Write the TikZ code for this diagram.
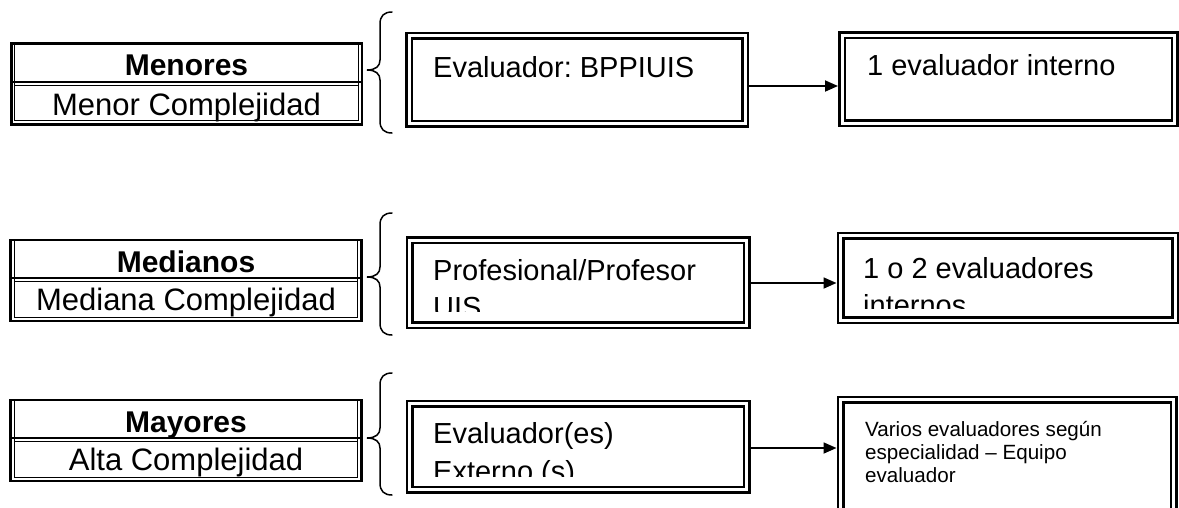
\documentclass[tikz,border=0pt]{standalone}
\usepackage{fontspec}
\setmainfont{Liberation Sans}
\usetikzlibrary{arrows.meta,calc}
\frenchspacing
\tikzset{
  frame/.style={draw, double, line width=2.5pt, double distance=3pt, rectangle, inner sep=0pt, outer sep=4pt},
  tbl/.style={draw, line width=2.6pt, rectangle, minimum width=350.6pt, minimum height=81pt, inner sep=0pt, outer sep=0pt},
  thinline/.style={line width=1.1pt},
  divthick/.style={line width=1.8pt},
  lab/.style={inner sep=0pt, anchor=base, font=\fontsize{31}{37}\selectfont},
  labb/.style={inner sep=0pt, anchor=base, font=\fontsize{30}{36}\selectfont\bfseries},
  txt/.style={inner sep=0pt, anchor=base west, font=\fontsize{29}{35}\selectfont},
  smalltxt/.style={inner sep=0pt, anchor=base west, font=\fontsize{20.6}{24}\selectfont},
  conn/.style={line width=1.8pt, -{Triangle[length=13pt,width=11pt]}},
  bracepath/.style={line width=1.5pt, line cap=round},
}
\begin{document}
\begin{tikzpicture}[x=1pt,y=-1pt]
\useasboundingbox (0,0) rectangle (1179,507);
\clip (0,0) rectangle (1179,507);

% ---------- left tables ----------
\foreach \n/\cx/\cy in {t1/186.5/84, t2/186/280.5, t3/186/440.5}{
  \node[tbl] (\n) at (\cx,\cy) {};
  \draw[thinline] ($(\n.north west)+(3.6,1.3)$) |- ($(\n.south east)+(-3.6,-3.6)$) -- ($(\n.north east)+(-3.6,1.3)$);
  \draw[divthick] ($(\n.west)+(0,-2.2)$) -- ($(\n.east)+(0,-2.2)$);
  \draw[thinline] ($(\n.west)+(3.6,1.3)$) -- ($(\n.east)+(-3.6,1.3)$);
}
\node[labb] (t1a) at (186.5,75) {Menores};
\node[lab]  (t1b) at (186.5,115) {Menor Complejidad};
\node[labb] (t2a) at (186,272) {Medianos};
\node[lab]  (t2b) at (186,310) {Mediana Complejidad};
\node[labb] (t3a) at (186,432) {Mayores};
\node[lab]  (t3b) at (186,470) {Alta Complejidad};

% ---------- braces ----------
\draw[bracepath] (392,12) .. controls (384,12) and (380,16) .. (380,24) -- (380,60)
  .. controls (380,66) and (376,70) .. (367,70) .. controls (376,70) and (380,74) .. (380,80)
  -- (380,121) .. controls (380,129) and (384,133) .. (392,133);
\draw[bracepath] (392,213) .. controls (384,213) and (380,217) .. (380,225) -- (380,267)
  .. controls (380,273) and (376,277) .. (367,277) .. controls (376,277) and (380,281) .. (380,287)
  -- (380,323) .. controls (380,331) and (384,335) .. (392,335);
\draw[bracepath] (392,373) .. controls (384,373) and (380,377) .. (380,385) -- (380,428)
  .. controls (380,434) and (376,438) .. (367,438) .. controls (376,438) and (380,442) .. (380,448)
  -- (380,483) .. controls (380,491) and (384,495) .. (392,495);

% ---------- boxes ----------
\node[frame, minimum width=336pt, minimum height=88pt] (b1) at (577,79.5) {};
\node[frame, minimum width=332.5pt, minimum height=88pt] (b2) at (1008.25,79) {};
\node[frame, minimum width=337pt, minimum height=85pt] (b3) at (578,282.5) {};
\node[frame, minimum width=334.5pt, minimum height=84.5pt] (b4) at (1007.75,277.75) {};
\node[frame, minimum width=337pt, minimum height=86pt] (b5) at (578,446.5) {};
\node[frame, minimum width=333pt, minimum height=140.5pt] (b6) at (1007,469.75) {};

% ---------- box texts ----------
\node[txt] (b1t) at (433,77) {Evaluador: BPPIUIS};
\node[txt] (b2t) at (867,75) {1 evaluador interno};
\begin{scope}
  \clip (400,200) rectangle (760,311);
  \node[txt] (b3t) at (433,280) {Profesional/Profesor};
  \node[txt] (b3u) at (433,317) {UIS};
\end{scope}
\begin{scope}
  \clip (830,200) rectangle (1179,308);
  \node[txt] (b4t) at (863,278) {1 o 2 evaluadores};
  \node[txt] (b4u) at (863,315) {internos};
\end{scope}
\begin{scope}
  \clip (400,380) rectangle (760,476);
  \node[txt] (b5t) at (433,443) {Evaluador(es)};
  \node[txt] (b5u) at (433,481) {Externo (s)};
\end{scope}
\node[smalltxt] (b6t) at (865,436) {Varios evaluadores según};
\node[smalltxt] (b6u) at (865,459) {especialidad – Equipo};
\node[smalltxt] (b6v) at (865,482) {evaluador};

% ---------- connectors ----------
\path (b1.east) ++(0,6.5) coordinate (s1);
\draw[conn] (s1) -- (s1 -| b2.west);
\path (b3.east) ++(0,0.5) coordinate (s2);
\draw[conn] (s2) -- (s2 -| b4.west);
\path (b5.east) ++(0,1.5) coordinate (s3);
\draw[conn] (s3) -- (s3 -| b6.west);
\end{tikzpicture}
\end{document}
